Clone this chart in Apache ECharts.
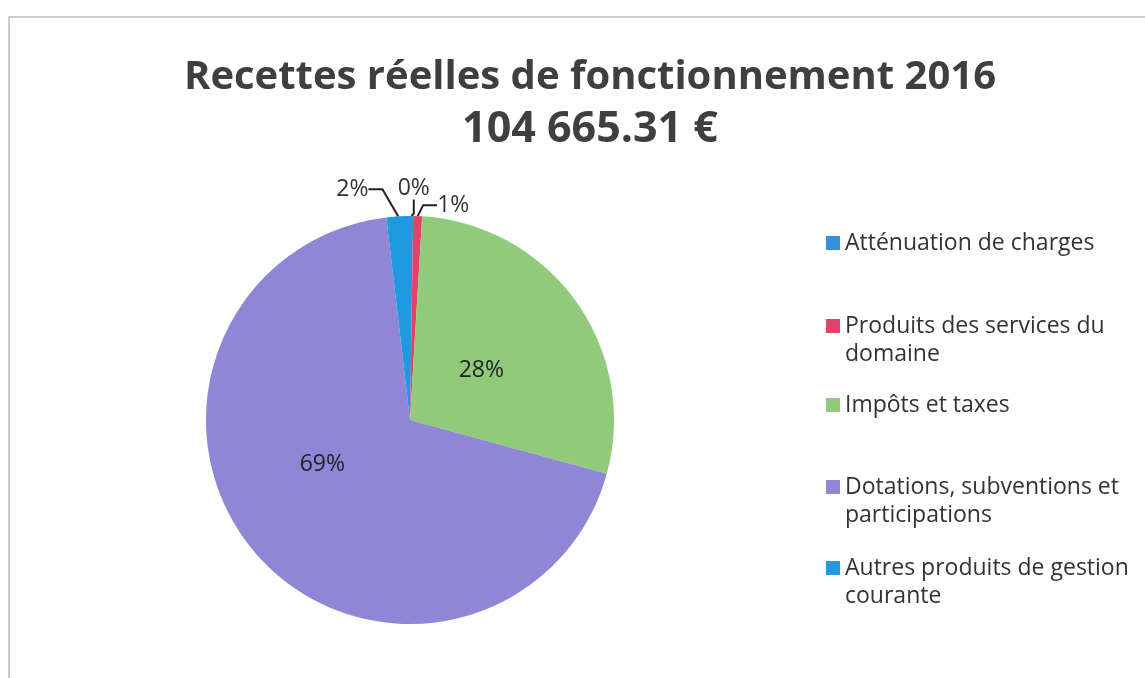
<!DOCTYPE html>
<html>
<head>
<meta charset="utf-8">
<script src="https://cdn.jsdelivr.net/npm/echarts@6/dist/echarts.min.js"></script>
<style>
    html, body {margin: 0; padding: 0; background: #fff;}
    #chart {width: 1145px; height: 678px;}
</style>
</head>
<body>
<div id="chart"></div>
<script>
// postes de recettes (en % du total)
const categories = [
    'Atténuation de charges',
    'Produits des services du domaine',
    'Impôts et taxes',
    'Dotations, subventions et participations',
    'Autres produits de gestion courante'
]
const legendLabels = [
    'Atténuation de charges',
    'Produits des services du\ndomaine',
    'Impôts et taxes',
    'Dotations, subventions et\nparticipations',
    'Autres produits de gestion\ncourante'
]
const values = [0.25, 0.7, 28.3, 68.9, 1.85]
const colors = ['#3a8fda', '#e0436a', '#8fcb7a', '#8f86d6', '#1e9be0']

const titleText = 'Recettes réelles de fonctionnement 2016'
const subText = '104 665.31 €'

const font = '"Open Sans", "Noto Sans", sans-serif'
const chart = echarts.init(document.getElementById('chart'))

// une légende par poste pour reproduire l'espacement irrégulier d'Excel
// (ligne vide en tête pour que le carré reste aligné sur la 1re ligne)
const legendTops = [229, 284, 391, 445, 526]
const legends = categories.map((name, i) => {
    const multi = legendLabels[i].includes('\n')
    return {
        orient: 'vertical',
        left: 826,
        top: legendTops[i],
        padding: 0,
        data: [name],
        icon: 'rect',
        itemWidth: 14,
        itemHeight: 14,
        itemGap: 0,
        selectedMode: false,
        formatter: () => (multi ? '\n' : '') + legendLabels[i],
        textStyle: {
            fontFamily: font,
            fontSize: 23,
            lineHeight: 28,
            color: '#333'
        }
    }
})

// décalages des petites étiquettes extérieures (0%, 1%, 2%)
const outerShift = {0: [-33, -16], 1: [0, 1], 4: [-10, -15]}

const data = categories.map((name, i) => {
    const item = {name: name, value: values[i], itemStyle: {color: colors[i]}}
    if (values[i] < 5) {
        item.label = {position: 'outside', color: '#333'}
    } else if (i == 2) {
        item.label = {offset: [-14, 12]}
    } else if (i == 3) {
        item.label = {offset: [-8, -24]}
    }
    return item
})

const option = {
    backgroundColor: '#fff',
    animation: false,
    title: [
        {
            text: titleText,
            left: 585,
            textAlign: 'center',
            top: 53,
            textStyle: {fontFamily: font, fontSize: 40, fontWeight: 'bold', color: '#3f3f3f'}
        },
        {
            text: subText,
            left: 585,
            textAlign: 'center',
            top: 103,
            textStyle: {fontFamily: font, fontSize: 43, fontWeight: 'bold', color: '#3f3f3f'}
        }
    ],
    legend: legends,
    graphic: [
        {
            type: 'polyline',
            shape: {points: [[9, 678], [9, 17], [1145, 17]]},
            style: {stroke: '#bbb', lineWidth: 1.5, fill: null}
        }
    ],
    series: [
        {
            type: 'pie',
            center: [410, 420],
            radius: 204,
            startAngle: 90,
            clockwise: true,
            percentPrecision: 0,
            avoidLabelOverlap: false,
            label: {
                position: 'inside',
                formatter: '{d}%',
                fontFamily: font,
                fontSize: 23,
                color: '#222'
            },
            labelLine: {
                show: true,
                length: 12,
                length2: 14,
                lineStyle: {color: '#222', width: 2}
            },
            labelLayout: function (params) {
                const s = outerShift[params.dataIndex]
                if (!s) return {}
                const r = params.labelRect
                let x = r.x
                if (params.align == 'right') x = r.x + r.width
                else if (params.align == 'center') x = r.x + r.width / 2
                return {x: x + s[0], y: r.y + r.height / 2 + s[1]}
            },
            emphasis: {disabled: true},
            data: data
        }
    ]
}

chart.setOption(option)
</script>
</body>
</html>
